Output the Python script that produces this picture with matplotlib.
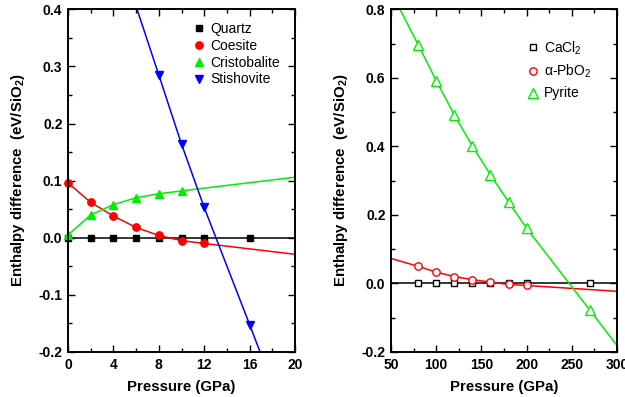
import matplotlib
matplotlib.use("Agg")
import matplotlib.pyplot as plt
from matplotlib.ticker import MultipleLocator

plt.rcParams['font.family'] = ['Liberation Sans', 'DejaVu Sans']
plt.rcParams['mathtext.fontset'] = 'custom'
plt.rcParams['mathtext.rm'] = 'Liberation Sans'
plt.rcParams['mathtext.bf'] = 'Liberation Sans:bold'

# ---- left panel data (GPa, eV/SiO2)
quartz_p = [0, 2, 4, 6, 8, 10, 12, 16]
quartz_h = [0, 0, 0, 0, 0, 0, 0, 0]
quartz_line_p = [0, 20]
quartz_line_h = [0, 0]

coesite_p = [0, 2, 4, 6, 8, 10, 12]
coesite_h = [0.096, 0.062, 0.038, 0.018, 0.004, -0.005, -0.010]
coesite_line_p = [0, 2, 4, 6, 8, 10, 12, 20]
coesite_line_h = [0.096, 0.062, 0.038, 0.018, 0.004, -0.005, -0.010, -0.029]

cristo_p = [0, 2, 4, 6, 8, 10]
cristo_h = [0.005, 0.040, 0.058, 0.070, 0.077, 0.082]
cristo_line_p = [0, 2, 4, 6, 8, 10, 20]
cristo_line_h = [0.005, 0.040, 0.058, 0.070, 0.077, 0.082, 0.106]

stish_p = [8, 10, 12, 16]
stish_h = [0.285, 0.164, 0.053, -0.152]
stish_line_p = [6, 8, 10, 12, 16, 17.5]
stish_line_h = [0.405, 0.285, 0.164, 0.053, -0.152, -0.230]

# ---- right panel data
cacl2_p = [80, 100, 120, 140, 160, 180, 200, 270]
cacl2_h = [0, 0, 0, 0, 0, 0, 0, 0]
cacl2_line_p = [50, 300]
cacl2_line_h = [0, 0]

pbo2_p = [80, 100, 120, 140, 160, 180, 200]
pbo2_h = [0.050, 0.033, 0.020, 0.011, 0.004, -0.003, -0.006]
pbo2_line_p = [50, 80, 100, 120, 140, 160, 180, 200, 300]
pbo2_line_h = [0.073, 0.050, 0.033, 0.020, 0.011, 0.004, -0.003, -0.006, -0.023]

pyrite_p = [80, 100, 120, 140, 160, 180, 200, 270]
pyrite_h = [0.697, 0.592, 0.492, 0.401, 0.317, 0.238, 0.161, -0.078]
pyrite_line_p = [55, 80, 100, 120, 140, 160, 180, 200, 270, 300]
pyrite_line_h = [0.825, 0.697, 0.592, 0.492, 0.401, 0.317, 0.238, 0.161, -0.078, -0.181]

green = '#00ee00'

fig = plt.figure(figsize=(6.25, 3.97), dpi=100)
ax1 = fig.add_axes([0.1088, 0.1134, 0.3632, 0.8632])
ax2 = fig.add_axes([0.6256, 0.1134, 0.3616, 0.8632])

lw = 1.1

# left
ax1.plot(quartz_line_p, quartz_line_h, color='black', lw=lw)
ax1.plot(coesite_line_p, coesite_line_h, color='red', lw=lw)
ax1.plot(cristo_line_p, cristo_line_h, color=green, lw=lw)
ax1.plot(stish_line_p, stish_line_h, color='blue', lw=lw)
ax1.plot(quartz_p, quartz_h, 's', color='black', ms=4.5, label='Quartz', clip_on=False)
ax1.plot(coesite_p, coesite_h, 'o', color='red', ms=5.3, label='Coesite', clip_on=False)
ax1.plot(cristo_p, cristo_h, '^', color=green, ms=6, label='Cristobalite', clip_on=False)
ax1.plot(stish_p, stish_h, 'v', color='blue', ms=6, label='Stishovite', clip_on=False)

ax1.set_xlim(0, 20)
ax1.set_ylim(-0.2, 0.4)
ax1.xaxis.set_major_locator(MultipleLocator(4))
ax1.xaxis.set_minor_locator(MultipleLocator(2))
ax1.set_yticks([-0.2, -0.1, 0.0, 0.1, 0.2, 0.3, 0.4])
ax1.set_yticklabels(['-0.2', '-0.1', '0.0', '0.1', '0.2', '0.3', '0.4'])
ax1.yaxis.set_minor_locator(MultipleLocator(0.05))

# right
ax2.plot(cacl2_line_p, cacl2_line_h, color='black', lw=lw)
ax2.plot(pbo2_line_p, pbo2_line_h, color='red', lw=lw)
ax2.plot(pyrite_line_p, pyrite_line_h, color=green, lw=lw)
ax2.plot(cacl2_p, cacl2_h, 's', mfc='white', mec='black', mew=1.0, ms=4.5, label='CaCl$_2$')
ax2.plot(pbo2_p, pbo2_h, 'o', mfc='white', mec='red', mew=1.0, ms=5.3, label='α-PbO$_2$')
ax2.plot(pyrite_p, pyrite_h, '^', mfc='white', mec=green, mew=1.0, ms=6.5, label='Pyrite')

ax2.set_xlim(50, 300)
ax2.set_ylim(-0.2, 0.8)
ax2.xaxis.set_major_locator(MultipleLocator(50))
ax2.xaxis.set_minor_locator(MultipleLocator(25))
ax2.set_yticks([-0.2, 0.0, 0.2, 0.4, 0.6, 0.8])
ax2.set_yticklabels(['-0.2', '0.0', '0.2', '0.4', '0.6', '0.8'])
ax2.yaxis.set_minor_locator(MultipleLocator(0.1))

for ax in (ax1, ax2):
    for s in ax.spines.values():
        s.set_linewidth(1.4)
    ax.tick_params(which='both', direction='in', top=True, right=True, width=1.0)
    ax.tick_params(which='major', length=5, labelsize=10, pad=4)
    ax.tick_params(which='minor', length=3)
    for lab in ax.get_xticklabels() + ax.get_yticklabels():
        lab.set_fontweight('bold')
    ax.set_xlabel('Pressure (GPa)', fontsize=10.8, fontweight='bold', labelpad=6)
    ax.set_ylabel(r'Enthalpy difference  (eV/SiO$_\mathbf{2}$)', fontsize=10.8,
                  fontweight='bold', labelpad=8)

ax1.legend(loc='upper left', bbox_to_anchor=(0.523, 0.979), frameon=False, fontsize=10,
           handletextpad=0.3, handlelength=1.0, labelspacing=0.2, borderaxespad=0)
ax2.legend(loc='upper left', bbox_to_anchor=(0.571, 0.929), frameon=False, fontsize=10,
           handletextpad=0.3, handlelength=1.0, labelspacing=0.45, borderaxespad=0)

fig.savefig('out.png', dpi=100)
